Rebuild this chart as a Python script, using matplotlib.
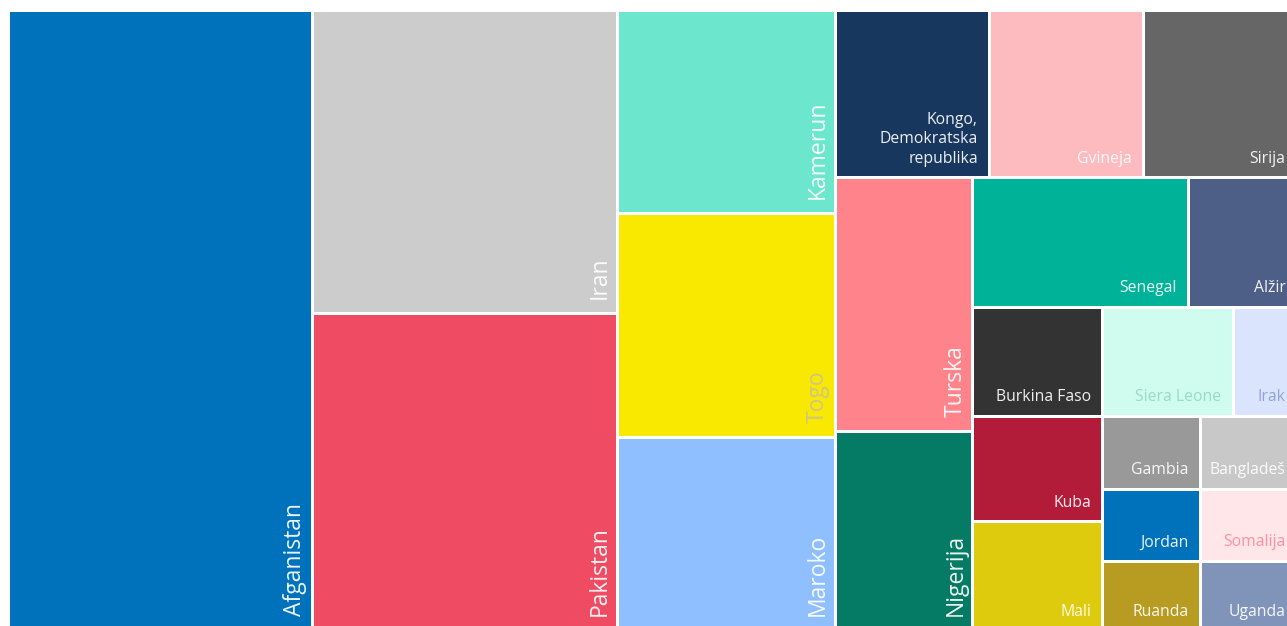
#!/usr/bin/env python3
"""
Treemap of countries, drawn with plain matplotlib rectangles.
"""

import textwrap
import matplotlib.pyplot as plt
from matplotlib.patches import Rectangle

countries = ["Afganistan", "Iran", "Pakistan", "Kamerun", "Togo", "Maroko",
             "Kongo, Demokratska republika", "Gvineja", "Sirija", "Turska",
             "Nigerija", "Senegal", "Alžir", "Burkina Faso", "Siera Leone",
             "Irak", "Kuba", "Mali", "Gambia", "Bangladeš", "Jordan",
             "Ruanda", "Somalija", "Uganda"]
values = [2704, 1320, 1379, 635, 699, 602,
          370, 368, 370, 497,
          389, 400, 201, 202, 202,
          100, 197, 202, 102, 101, 101,
          96, 100, 96]
colors = ["#0071bb", "#cccccc", "#ef4b62", "#6ce6cc", "#f9e900", "#8fbfff",
          "#17375e", "#febbbf", "#666666", "#fe838a",
          "#057a64", "#00b398", "#4d5f87", "#333333", "#cffcef",
          "#dae5fd", "#b31c39", "#dfcb0d", "#999999", "#c8c8c8", "#0071bb",
          "#b89c22", "#ffe6e8", "#8093b9"]
label_colors = ["white", "white", "white", "white", "#c9c391", "white",
                "white", "white", "white", "white",
                "white", "white", "white", "white", "#96d7c6",
                "#8d9dd3", "white", "white", "white", "white", "white",
                "white", "#ff8a97", "white"]

# how the tiles nest: top level is split left to right,
# the next level top to bottom, and so on
groups = [
    ["Afganistan"],
    ["Iran", "Pakistan"],
    ["Kamerun", "Togo", "Maroko"],
    [["Kongo, Demokratska republika", "Gvineja", "Sirija"],
     [["Turska", "Nigerija"],
      [["Senegal", "Alžir"],
       ["Burkina Faso", "Siera Leone", "Irak"],
       [["Kuba", "Mali"],
        [["Gambia", "Bangladeš"],
         [["Jordan", "Ruanda"], ["Somalija", "Uganda"]]]]]]],
]

# big tiles get the large, rotated label
rotated = {"Afganistan", "Iran", "Pakistan", "Kamerun", "Togo", "Maroko",
           "Turska", "Nigerija"}

value_of = dict(zip(countries, values))


def node_total(node):
    """Sum of values below a node of the group tree"""
    if isinstance(node, str):
        return value_of[node]
    return sum(node_total(n) for n in node)


def slice_dice(node, x0, y0, x1, y1, across, cells):
    """Split the box between the children, alternating direction per level"""
    if isinstance(node, str):
        cells[node] = (x0, y0, x1, y1)
        return
    total = node_total(node)
    start = x0 if across else y0
    span = (x1 - x0) if across else (y1 - y0)
    for child in node:
        step = span * node_total(child) / total
        if across:
            slice_dice(child, start, y0, start + step, y1, False, cells)
        else:
            slice_dice(child, x0, start, x1, start + step, True, cells)
        start += step


# plot box in pixels (slightly larger than the figure: the chart is cropped)
W, H = 1289.5, 620.5
fig = plt.figure(figsize=(12.87, 6.26), dpi=100)
ax = fig.add_axes([7.5 / 1287, -4 / 626, W / 1287, H / 626])
ax.set_xlim(0, W)
ax.set_ylim(H, 0)
ax.axis('off')

cells = {}
slice_dice(groups, 0, 0, W, H, True, cells)

for name, color, tcolor in zip(countries, colors, label_colors):
    x0, y0, x1, y1 = cells[name]
    ax.add_patch(Rectangle((x0, y0), x1 - x0, y1 - y0, facecolor=color,
                           edgecolor='white', linewidth=2.16))
    if name in rotated:
        ax.text(x1 - 11, y1 - 14, name, rotation=90, rotation_mode='anchor',
                ha='left', va='baseline', fontsize=16.5, color=tcolor,
                alpha=0.92, family='Open Sans')
    else:
        label = '\n'.join(textwrap.wrap(name, 12))
        ax.text(x1 - 11.5, y1 - 10.5, label, ha='right', va='bottom',
                multialignment='right', linespacing=1.3, fontsize=11.3,
                color=tcolor, alpha=0.92, family='Open Sans')

fig.savefig('out.png', dpi=100)
